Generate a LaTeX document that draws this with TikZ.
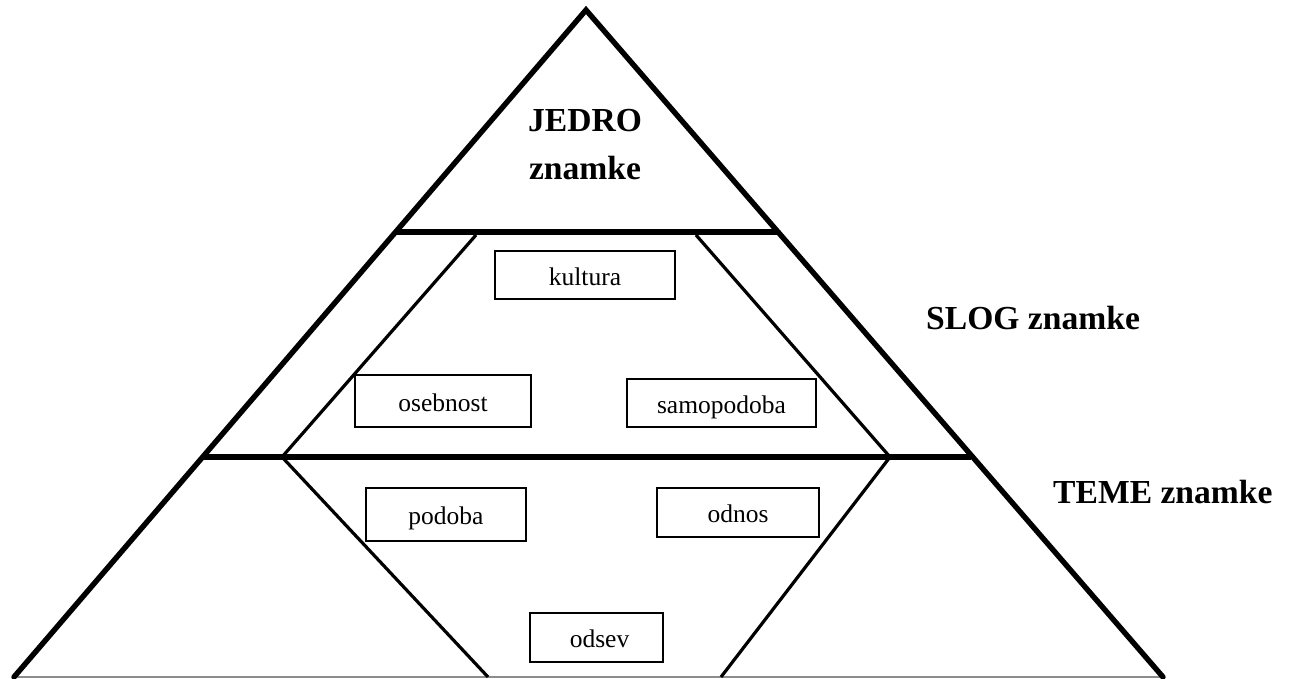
\documentclass[tikz,border=0pt]{standalone}
\usepackage{fontspec}
\setmainfont{Liberation Serif}
\begin{document}
\begin{tikzpicture}[x=1pt,y=-1pt,
  outer/.style={line width=5.4pt,line cap=round,line join=miter},
  inner/.style={line width=3.2pt},
  item/.style={draw,line width=1.8pt,rectangle,inner sep=0pt,text height=20pt,text depth=0pt,font=\fontsize{25.5}{30}\selectfont},
  big/.style={font=\bfseries\fontsize{33.6}{40}\selectfont,inner sep=0pt}]
\useasboundingbox (0,0) rectangle (1293,679);
% key points
\coordinate (apex) at (586,10);
\coordinate (bl) at (14,677);
\coordinate (br) at (1163,677);
\coordinate (l1) at (396.5,232);
\coordinate (r1) at (778,232);
\coordinate (l2) at (203,457);
\coordinate (r2) at (971,457);
\coordinate (ia) at (476,235);
\coordinate (ib) at (282,457);
\coordinate (ic) at (488,677);
\coordinate (ja) at (696,235);
\coordinate (jb) at (890,457);
\coordinate (jc) at (721,677);
% bottom edge
\draw[line width=1.2pt,black!45] (bl) -- (br);
% outer triangle
\draw[outer] (bl) -- (apex) -- (br);
% horizontal bands
\draw[outer,line cap=butt] (l1) -- (r1);
\draw[outer,line cap=butt] (l2) -- (r2);
% inner lines
\draw[inner] (ia) -- (ib) -- (ic);
\draw[inner] (ja) -- (jb) -- (jc);
% boxes
\node[item,minimum width=180pt,minimum height=48pt] (kultura) at (585,275) {kultura};
\node[item,minimum width=176pt,minimum height=52pt] (osebnost) at (443,401) {osebnost};
\node[item,minimum width=189pt,minimum height=48pt] (samopodoba) at (721.5,403) {samopodoba};
\node[item,minimum width=160pt,minimum height=53pt] (podoba) at (446,514.5) {podoba};
\node[item,minimum width=162pt,minimum height=49pt] (odnos) at (738,512.5) {odnos};
\node[item,minimum width=133pt,minimum height=49pt,text width=133pt,align=center] (odsev) at (596.5,637.5) {\hspace*{6pt}odsev};
% labels
\node[big,anchor=base] (jedro) at (585,132) {JEDRO};
\node[big,anchor=base] (jedroz) at (585,180) {znamke};
\node[big,anchor=base west] (slog) at (926,329) {SLOG znamke};
\node[big,anchor=base west] (teme) at (1053,503) {TEME znamke};
\end{tikzpicture}
\end{document}
